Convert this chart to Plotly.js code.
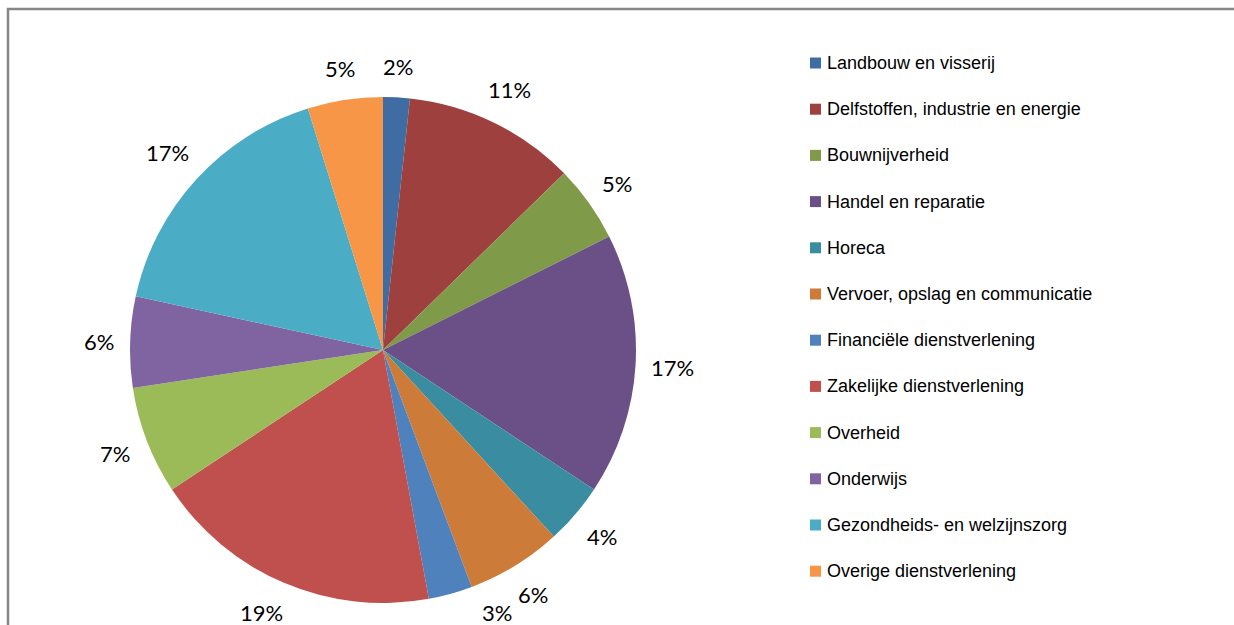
<!DOCTYPE html>
<html>
<head>
<meta charset="utf-8">
<script src="https://cdn.plot.ly/plotly-3.0.1.min.js"></script>
<style>html,body{margin:0;padding:0;background:#fff;}#chart{width:1234px;height:625px;}</style>
</head>
<body>
<div id="chart"></div>
<script>
const categories = [
  "Landbouw en visserij",
  "Delfstoffen, industrie en energie",
  "Bouwnijverheid",
  "Handel en reparatie",
  "Horeca",
  "Vervoer, opslag en communicatie",
  "Financiële dienstverlening",
  "Zakelijke dienstverlening",
  "Overheid",
  "Onderwijs",
  "Gezondheids- en welzijnszorg",
  "Overige dienstverlening"
];
const shares = [1.7, 11.0, 4.9, 16.7, 3.9, 6.1, 2.8, 18.6, 6.9, 5.8, 16.8, 4.8];
const colors = ["#3F6DA3", "#9E403D", "#7F9A48", "#6A5087", "#3A8DA0", "#CD7B38",
                "#4F81BD", "#C0504D", "#9BBB59", "#8064A2", "#4BACC6", "#F79646"];

const W = 1234, H = 625;
const cx = 383, cy = 350, r = 253;

const trace = {
  type: "pie",
  labels: categories,
  values: shares,
  sort: false,
  direction: "clockwise",
  rotation: 0,
  marker: {colors: colors, line: {width: 0}},
  textinfo: "none",
  hoverinfo: "label+percent",
  showlegend: false,
  domain: {x: [(cx - r) / W, (cx + r) / W], y: [1 - (cy + r) / H, 1 - (cy - r) / H]}
};

const annotations = [];
const shapes = [];

// percentage labels outside the slices (Excel "outside end" style: fixed gap from the edge)
const total = shares.reduce((a, b) => a + b, 0);
let cum = 0;
const gap = 20, halfH = 10, maxY = 612;
shares.forEach((v, i) => {
  const mid = (cum + v / 2) / total * 2 * Math.PI;
  cum += v;
  const txt = Math.round(v / total * 100) + "%";
  const halfW = txt.length * 5.5;
  const s = Math.sin(mid), c = Math.cos(mid);
  const d = r + gap + Math.abs(s) * halfW + Math.abs(c) * halfH;
  let px = cx + d * s;
  let py = cy - d * c;
  if (py > maxY) {
    const dy = maxY - cy;
    const dx = Math.sqrt(Math.max(d * d - dy * dy, 0));
    py = maxY;
    px = cx + (s >= 0 ? dx : -dx);
  }
  annotations.push({xref: "paper", yref: "paper", x: px / W, y: 1 - py / H,
    xanchor: "center", yanchor: "middle", showarrow: false, text: txt,
    font: {family: "Lato, 'Liberation Sans', sans-serif", size: 22, color: "#000"}});
});

// legend
const legX = 810, legY0 = 63, legStep = 46.2, sq = 11;
categories.forEach((c, i) => {
  const y = legY0 + i * legStep;
  shapes.push({type: "rect", xref: "paper", yref: "paper",
    x0: legX / W, x1: (legX + sq) / W, y0: 1 - (y + sq / 2) / H, y1: 1 - (y - sq / 2) / H,
    fillcolor: colors[i], line: {width: 0}});
  annotations.push({xref: "paper", yref: "paper", x: (legX + 15) / W, y: 1 - y / H,
    xanchor: "left", yanchor: "middle", showarrow: false, text: c,
    font: {family: "'Liberation Sans', Arial, sans-serif", size: 18, color: "#000"}});
});

// chart frame (left and top edges visible)
const fx = 8 / W, fy = 1 - 9 / H;
shapes.push({type: "path", xref: "paper", yref: "paper",
  path: "M " + fx + "," + (-0.05) + " L " + fx + "," + fy + " L " + 1.05 + "," + fy,
  line: {color: "#868686", width: 2.5}, layer: "below"});

const layout = {
  width: W, height: H,
  margin: {l: 0, r: 0, t: 0, b: 0},
  paper_bgcolor: "#fff",
  showlegend: false,
  shapes: shapes,
  annotations: annotations
};
Plotly.newPlot("chart", [trace], layout, {displayModeBar: false, staticPlot: true});
</script>
</body>
</html>
